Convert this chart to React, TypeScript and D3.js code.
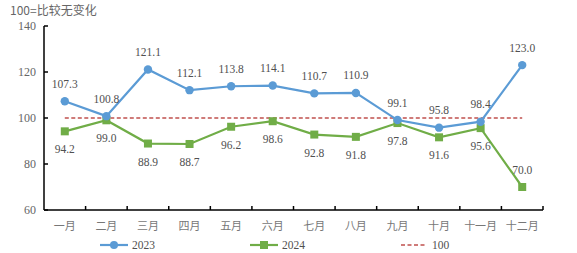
import React from "react";
import * as d3 from "d3";

const months = ["一月", "二月", "三月", "四月", "五月", "六月", "七月", "八月", "九月", "十月", "十一月", "十二月"];
const series2023 = [107.3, 100.8, 121.1, 112.1, 113.8, 114.1, 110.7, 110.9, 99.1, 95.8, 98.4, 123.0];
const series2024 = [94.2, 99.0, 88.9, 88.7, 96.2, 98.6, 92.8, 91.8, 97.8, 91.6, 95.6, 70.0];
const label2023Pos = ["up", "up", "up", "up", "up", "up", "up", "up", "up", "up", "up", "up"];
const label2024Pos = ["down", "down", "down", "down", "down", "down", "down", "down", "down", "down", "down", "up"];
const yTicks = [60, 80, 100, 120, 140];
const baseline = 100;
const legendNames = ["2023", "2024", "100"];

const BLUE = "#5b9bd5";
const GREEN = "#70ad47";
const RED = "#c0504d";
const TEXT = "#505050";
const NUM_FONT = "'Liberation Serif', 'DejaVu Serif', serif";
const CJK_FONT = "'Noto Sans CJK SC', sans-serif";

export default function App() {
  const W = 577, H = 253;
  const left = 44, right = 543, top = 26, bottom = 210;
  const x = d3.scaleBand<string>().domain(months).range([left, right]);
  const cx = (i: number) => (x(months[i]) as number) + x.bandwidth() / 2;
  const y = d3.scaleLinear().domain([60, 140]).range([bottom, top]);
  const line = d3.line<number>().x((_, i) => cx(i)).y((d) => y(d));
  const labelY = (v: number, pos: string) => (pos === "up" ? y(v) - 13.5 : y(v) + 22);

  return (
    <svg width={W} height={H} style={{ position: "absolute", left: 0, top: 0, background: "#fff" }}>
      <text x={10} y={15} fontSize={12} fill="#666" fontFamily={CJK_FONT}>100=比较无变化</text>
      {/* y axis */}
      <line x1={left} x2={left} y1={top} y2={bottom} stroke="#000" strokeWidth={1.5} />
      {yTicks.map((t) => (
        <g key={t}>
          <line x1={left} x2={left + 4} y1={y(t)} y2={y(t)} stroke="#000" strokeWidth={1.5} />
          <text x={left - 8} y={y(t) + 4} textAnchor="end" fontSize={12} fill="#666" fontFamily={NUM_FONT}>{t}</text>
        </g>
      ))}
      {/* x axis */}
      <line x1={left} x2={right} y1={bottom} y2={bottom} stroke="#000" strokeWidth={1.5} />
      {months.map((m, i) => (
        <g key={m}>
          <line x1={(x(m) as number) + x.bandwidth()} x2={(x(m) as number) + x.bandwidth()} y1={bottom} y2={bottom - 4} stroke="#000" strokeWidth={1.5} />
          <text x={cx(i)} y={bottom + 20} textAnchor="middle" fontSize={11} fill="#777" fontFamily={CJK_FONT}>{m}</text>
        </g>
      ))}
      {/* baseline */}
      <line x1={cx(0)} x2={cx(11)} y1={y(baseline)} y2={y(baseline)} stroke={RED} strokeWidth={1.5} strokeDasharray="4,2.5" />
      {/* 2024 */}
      <path d={line(series2024) as string} fill="none" stroke={GREEN} strokeWidth={2.2} />
      {series2024.map((v, i) => (
        <rect key={i} x={cx(i) - 4} y={y(v) - 4} width={8} height={8} fill={GREEN} />
      ))}
      {/* 2023 */}
      <path d={line(series2023) as string} fill="none" stroke={BLUE} strokeWidth={2.2} />
      {series2023.map((v, i) => (
        <circle key={i} cx={cx(i)} cy={y(v)} r={4.2} fill={BLUE} />
      ))}
      {series2023.map((v, i) => (
        <text key={"a" + i} x={cx(i)} y={labelY(v, label2023Pos[i])} textAnchor="middle" fontSize={11.5} fill={TEXT} fontFamily={NUM_FONT}>{v.toFixed(1)}</text>
      ))}
      {series2024.map((v, i) => (
        <text key={"b" + i} x={cx(i)} y={labelY(v, label2024Pos[i])} textAnchor="middle" fontSize={11.5} fill={TEXT} fontFamily={NUM_FONT}>{v.toFixed(1)}</text>
      ))}
      {/* legend */}
      <g>
        <line x1={100} x2={128} y1={245} y2={245} stroke={BLUE} strokeWidth={2.2} />
        <circle cx={114} cy={245} r={4} fill={BLUE} />
        <text x={132} y={249} fontSize={11.5} fill={TEXT} fontFamily={NUM_FONT}>{legendNames[0]}</text>
        <line x1={250} x2={278} y1={245} y2={245} stroke={GREEN} strokeWidth={2.2} />
        <rect x={260} y={241} width={8} height={8} fill={GREEN} />
        <text x={282} y={249} fontSize={11.5} fill={TEXT} fontFamily={NUM_FONT}>{legendNames[1]}</text>
        <line x1={401} x2={427} y1={245} y2={245} stroke={RED} strokeWidth={1.5} strokeDasharray="4,2.5" />
        <text x={432} y={249} fontSize={11.5} fill={TEXT} fontFamily={NUM_FONT}>{legendNames[2]}</text>
      </g>
    </svg>
  );
}
